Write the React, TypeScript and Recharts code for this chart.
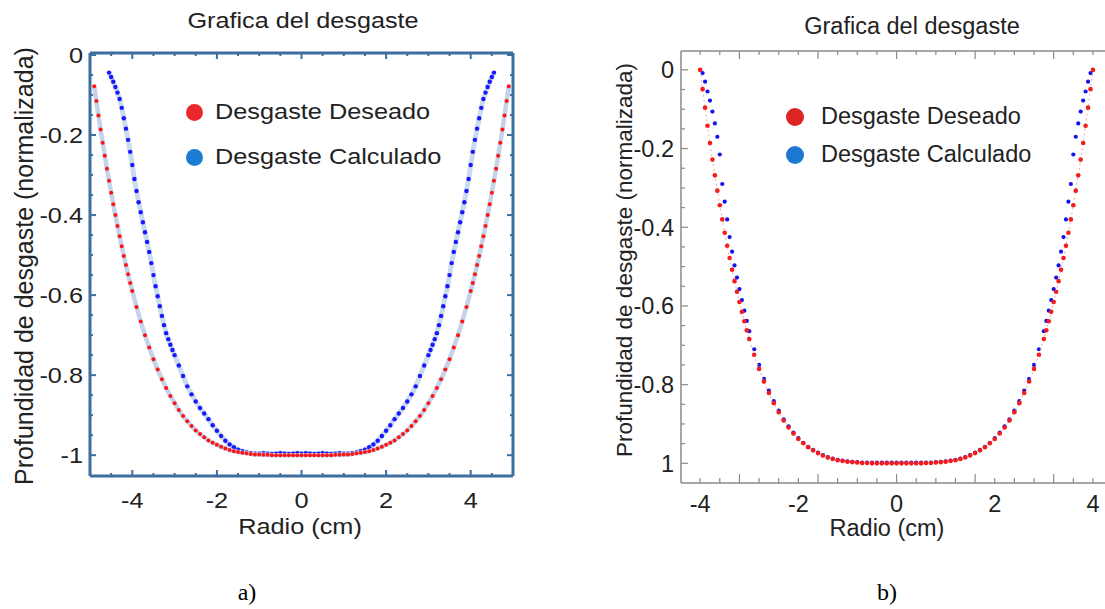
import { ScatterChart, Scatter, XAxis, YAxis } from 'recharts'

const TITULO = 'Grafica del desgaste'
const EJE_X = 'Radio (cm)'
const EJE_Y = 'Profundidad de desgaste (normalizada)'
const SERIES = ['Desgaste Deseado', 'Desgaste Calculado']
const PANELES = ['a)', 'b)']

// ---- panel a) ----
const RADIO_DESEADO_A = [
  -4.9, -4.85, -4.8, -4.75, -4.7, -4.65, -4.6, -4.55, -4.5, -4.45,
  -4.4, -4.35, -4.3, -4.25, -4.2, -4.15, -4.1, -4.05,
  -4, -3.9, -3.8, -3.7, -3.6, -3.5, -3.4, -3.3, -3.2, -3.1,
  -3, -2.9, -2.8, -2.7, -2.6, -2.5, -2.4, -2.3, -2.2, -2.1,
  -2, -1.9, -1.8, -1.7, -1.6, -1.5, -1.4, -1.3, -1.2, -1.1,
  -1, -0.9, -0.8, -0.7, -0.6, -0.5, -0.4, -0.3, -0.2, -0.1,
  0,
  0.1, 0.2, 0.3, 0.4, 0.5, 0.6, 0.7, 0.8, 0.9, 1,
  1.1, 1.2, 1.3, 1.4, 1.5, 1.6, 1.7, 1.8, 1.9, 2,
  2.1, 2.2, 2.3, 2.4, 2.5, 2.6, 2.7, 2.8, 2.9, 3,
  3.1, 3.2, 3.3, 3.4, 3.5, 3.6, 3.7, 3.8, 3.9, 4,
  4.05, 4.1, 4.15, 4.2, 4.25, 4.3, 4.35, 4.4, 4.45, 4.5,
  4.55, 4.6, 4.65, 4.7, 4.75, 4.8, 4.85, 4.9,
]
const DESGASTE_DESEADO_A = [
  -0.078, -0.115, -0.151, -0.186, -0.219, -0.252, -0.284, -0.314, -0.344, -0.373,
  -0.4, -0.427, -0.453, -0.478, -0.502, -0.525, -0.548, -0.57,
  -0.59, -0.63, -0.666, -0.7, -0.731, -0.76, -0.786, -0.81, -0.832, -0.852,
  -0.87, -0.887, -0.902, -0.915, -0.927, -0.938, -0.947, -0.955, -0.963, -0.969,
  -0.974, -0.979, -0.983, -0.987, -0.99, -0.992, -0.994, -0.995, -0.997, -0.998,
  -0.998, -0.999, -0.999, -1, -1, -1, -1, -1, -1, -1,
  -1,
  -1, -1, -1, -1, -1, -1, -1, -0.999, -0.999, -0.998,
  -0.998, -0.997, -0.995, -0.994, -0.992, -0.99, -0.987, -0.983, -0.979, -0.974,
  -0.969, -0.963, -0.955, -0.947, -0.938, -0.927, -0.915, -0.902, -0.887, -0.87,
  -0.852, -0.832, -0.81, -0.786, -0.76, -0.731, -0.7, -0.666, -0.63, -0.59,
  -0.57, -0.548, -0.525, -0.502, -0.478, -0.453, -0.427, -0.4, -0.373, -0.344,
  -0.314, -0.284, -0.252, -0.219, -0.186, -0.151, -0.115, -0.078,
]
const RADIO_CALCULADO_A = [
  -4.55, -4.5, -4.45, -4.4, -4.35, -4.3, -4.25, -4.2, -4.15, -4.1,
  -4.05, -4, -3.95, -3.9, -3.85, -3.8, -3.75, -3.7, -3.65, -3.6,
  -3.55, -3.5, -3.45, -3.4, -3.35, -3.3, -3.25, -3.2, -3.15, -3.1,
  -3.05,
  -3, -2.9, -2.8, -2.7, -2.6, -2.5, -2.4, -2.3, -2.2, -2.1,
  -2, -1.9, -1.8, -1.7, -1.6, -1.5, -1.4, -1.3, -1.2, -1.1,
  -1, -0.9, -0.8, -0.7, -0.6, -0.5, -0.4, -0.3, -0.2, -0.1,
  0,
  0.1, 0.2, 0.3, 0.4, 0.5, 0.6, 0.7, 0.8, 0.9, 1,
  1.1, 1.2, 1.3, 1.4, 1.5, 1.6, 1.7, 1.8, 1.9, 2,
  2.1, 2.2, 2.3, 2.4, 2.5, 2.6, 2.7, 2.8, 2.9, 3,
  3.05,
  3.1, 3.15, 3.2, 3.25, 3.3, 3.35, 3.4, 3.45, 3.5, 3.55,
  3.6, 3.65, 3.7, 3.75, 3.8, 3.85, 3.9, 3.95, 4, 4.05,
  4.1, 4.15, 4.2, 4.25, 4.3, 4.35, 4.4, 4.45, 4.5, 4.55,
]
const DESGASTE_CALCULADO_A = [
  -0.044, -0.055, -0.067, -0.08, -0.094, -0.11, -0.132, -0.158, -0.184, -0.212,
  -0.242, -0.275, -0.31, -0.34, -0.368, -0.393, -0.418, -0.443, -0.467, -0.492,
  -0.52, -0.55, -0.578, -0.603, -0.628, -0.652, -0.675, -0.695, -0.71, -0.724,
  -0.737,
  -0.75, -0.776, -0.802, -0.828, -0.848, -0.866, -0.882, -0.896, -0.91, -0.925,
  -0.939, -0.952, -0.964, -0.973, -0.98, -0.986, -0.99, -0.993, -0.995, -0.996,
  -0.996, -0.995, -0.996, -0.997, -0.996, -0.995, -0.996, -0.997, -0.996, -0.995,
  -0.996,
  -0.995, -0.996, -0.997, -0.996, -0.995, -0.996, -0.997, -0.996, -0.995, -0.996,
  -0.996, -0.995, -0.993, -0.99, -0.986, -0.98, -0.973, -0.964, -0.952, -0.939,
  -0.925, -0.91, -0.896, -0.882, -0.866, -0.848, -0.828, -0.802, -0.776, -0.75,
  -0.737,
  -0.724, -0.71, -0.695, -0.675, -0.652, -0.628, -0.603, -0.578, -0.55, -0.52,
  -0.492, -0.467, -0.443, -0.418, -0.393, -0.368, -0.34, -0.31, -0.275, -0.242,
  -0.212, -0.184, -0.158, -0.132, -0.11, -0.094, -0.08, -0.067, -0.055, -0.044,
]

// ---- panel b) ----
const RADIO_DESEADO_B = [
  -4, -3.95, -3.9, -3.85, -3.8, -3.75, -3.7, -3.65, -3.6, -3.55,
  -3.5, -3.45, -3.4, -3.35, -3.3, -3.25, -3.2, -3.15, -3.1, -3.05,
  -3, -2.9, -2.8, -2.7, -2.6, -2.5, -2.4, -2.3, -2.2, -2.1,
  -2, -1.9, -1.8, -1.7, -1.6, -1.5, -1.4, -1.3, -1.2, -1.1,
  -1, -0.9, -0.8, -0.7, -0.6, -0.5, -0.4, -0.3, -0.2, -0.1,
  0,
  0.1, 0.2, 0.3, 0.4, 0.5, 0.6, 0.7, 0.8, 0.9, 1,
  1.1, 1.2, 1.3, 1.4, 1.5, 1.6, 1.7, 1.8, 1.9, 2,
  2.1, 2.2, 2.3, 2.4, 2.5, 2.6, 2.7, 2.8, 2.9, 3,
  3.05, 3.1, 3.15, 3.2, 3.25, 3.3, 3.35, 3.4, 3.45, 3.5,
  3.55, 3.6, 3.65, 3.7, 3.75, 3.8, 3.85, 3.9, 3.95, 4,
]
const DESGASTE_DESEADO_B = [
  0, -0.049, -0.096, -0.142, -0.186, -0.228, -0.268, -0.307, -0.344, -0.38,
  -0.414, -0.447, -0.478, -0.508, -0.537, -0.564, -0.59, -0.615, -0.639, -0.662,
  -0.684, -0.724, -0.76, -0.792, -0.821, -0.847, -0.87, -0.891, -0.909, -0.924,
  -0.938, -0.949, -0.959, -0.967, -0.974, -0.98, -0.985, -0.989, -0.992, -0.994,
  -0.996, -0.997, -0.998, -0.999, -0.999, -1, -1, -1, -1, -1,
  -1,
  -1, -1, -1, -1, -1, -0.999, -0.999, -0.998, -0.997, -0.996,
  -0.994, -0.992, -0.989, -0.985, -0.98, -0.974, -0.967, -0.959, -0.949, -0.938,
  -0.924, -0.909, -0.891, -0.87, -0.847, -0.821, -0.792, -0.76, -0.724, -0.684,
  -0.662, -0.639, -0.615, -0.59, -0.564, -0.537, -0.508, -0.478, -0.447, -0.414,
  -0.38, -0.344, -0.307, -0.268, -0.228, -0.186, -0.142, -0.096, -0.049, 0,
]
const RADIO_CALCULADO_B = [
  -3.95, -3.9, -3.85, -3.8, -3.75, -3.7, -3.65, -3.6, -3.55, -3.5,
  -3.45, -3.4, -3.35, -3.3, -3.25, -3.2, -3.15, -3.1, -3.05,
  -3, -2.9, -2.8, -2.7, -2.6, -2.5, -2.4, -2.3, -2.2, -2.1,
  -2, -1.9, -1.8, -1.7, -1.6, -1.5, -1.4, -1.3, -1.2, -1.1,
  -1, -0.9, -0.8, -0.7, -0.6, -0.5, -0.4, -0.3, -0.2, -0.1,
  0,
  0.1, 0.2, 0.3, 0.4, 0.5, 0.6, 0.7, 0.8, 0.9, 1,
  1.1, 1.2, 1.3, 1.4, 1.5, 1.6, 1.7, 1.8, 1.9, 2,
  2.1, 2.2, 2.3, 2.4, 2.5, 2.6, 2.7, 2.8, 2.9, 3,
  3.05, 3.1, 3.15, 3.2, 3.25, 3.3, 3.35, 3.4, 3.45,
  3.5, 3.55, 3.6, 3.65, 3.7, 3.75, 3.8, 3.85, 3.9, 3.95,
]
const DESGASTE_CALCULADO_B = [
  -0.008, -0.03, -0.055, -0.078, -0.106, -0.136, -0.17, -0.215, -0.29, -0.335,
  -0.38, -0.425, -0.462, -0.497, -0.528, -0.557, -0.585, -0.612, -0.638,
  -0.664, -0.71, -0.75, -0.785, -0.815, -0.842, -0.866, -0.888, -0.906, -0.922,
  -0.936, -0.948, -0.958, -0.966, -0.973, -0.979, -0.984, -0.988, -0.991, -0.993,
  -0.995, -0.996, -0.997, -0.998, -0.998, -0.998, -0.998, -0.998, -0.998, -0.998,
  -0.998,
  -0.998, -0.998, -0.998, -0.998, -0.998, -0.998, -0.998, -0.997, -0.996, -0.995,
  -0.993, -0.991, -0.988, -0.984, -0.979, -0.973, -0.966, -0.958, -0.948, -0.936,
  -0.922, -0.906, -0.888, -0.866, -0.842, -0.815, -0.785, -0.75, -0.71, -0.664,
  -0.638, -0.612, -0.585, -0.557, -0.528, -0.497, -0.462, -0.425, -0.38,
  -0.335, -0.29, -0.215, -0.17, -0.136, -0.106, -0.078, -0.055, -0.03, -0.008,
]

// ticks
const MARCAS_X_A = [-4.5, -4, -3.5, -3, -2.5, -2, -1.5, -1, -0.5, 0, 0.5, 1, 1.5, 2, 2.5, 3, 3.5, 4, 4.5]
const ETIQUETAS_X = [-4, -2, 0, 2, 4]
const MARCAS_Y = [
  -1, -0.95, -0.9, -0.85, -0.8, -0.75, -0.7, -0.65, -0.6, -0.55,
  -0.5, -0.45, -0.4, -0.35, -0.3, -0.25, -0.2, -0.15, -0.1, -0.05, 0,
]
const ETIQUETAS_Y = [-1, -0.8, -0.6, -0.4, -0.2, 0]
const TEXTOS_Y_A = ['-1', '-0.8', '-0.6', '-0.4', '-0.2', '0']
const TEXTOS_Y_B = ['1', '-0.8', '-0.6', '-0.4', '-0.2', '0']
const MARCAS_X_B = [
  -4, -3.6, -3.2, -2.8, -2.4, -2, -1.6, -1.2, -0.8, -0.4, 0,
  0.4, 0.8, 1.2, 1.6, 2, 2.4, 2.8, 3.2, 3.6, 4,
]
const MAYORES_X_B = [-3.2, -1.6, 0, 1.6, 3.2]

const unir = (xs: number[], ys: number[]) => xs.map((x, i) => ({ x, y: ys[i] }))

const FUENTE = '"Liberation Sans", Arial, Helvetica, sans-serif'
const MARCO_A = '#3c6f9f'
const EJE_B = '#8a8a8a'

type Lado = 'abajo' | 'arriba' | 'izq' | 'der'
interface TickCfg {
  lado: Lado
  mayores: number[]
  largo: [number, number]
  color: string
  grosor: number
  etiquetas?: number[]
  textos?: string[]
  fuente?: number
  estirar?: number
  sep?: number
}

function crearTick(c: TickCfg) {
  return (props: any) => {
    const { x, y, payload } = props
    const v: number = payload.value
    const l = c.mayores.includes(v) ? c.largo[0] : c.largo[1]
    const d =
      c.lado === 'abajo' ? [0, -l] : c.lado === 'arriba' ? [0, l] : c.lado === 'izq' ? [l, 0] : [-l, 0]
    let texto = null
    const i = c.etiquetas ? c.etiquetas.indexOf(v) : -1
    if (i >= 0) {
      const s = c.textos ? c.textos[i] : String(v)
      const sep = c.sep ?? 10
      const horiz = c.lado === 'abajo'
      const tx = horiz ? x : x - sep
      const ty = horiz ? y + sep : y
      texto = (
        <text
          transform={`translate(${tx},${ty}) scale(${c.estirar ?? 1},1)`}
          textAnchor={horiz ? 'middle' : 'end'}
          dy="0.36em"
          fontSize={c.fuente}
          fontFamily={FUENTE}
          fill="#222"
        >
          {s}
        </text>
      )
    }
    return (
      <g>
        <line x1={x} y1={y} x2={x + d[0]} y2={y + d[1]} stroke={c.color} strokeWidth={c.grosor} />
        {texto}
      </g>
    )
  }
}

const punto = (r: number, fill: string) => (props: any) =>
  <circle cx={props.cx} cy={props.cy} r={r} fill={fill} />
const nada = () => <g />

function PanelA() {
  const ejeX = {
    type: 'number' as const,
    domain: [-5, 5],
    allowDataOverflow: true,
    ticks: MARCAS_X_A,
    interval: 0 as const,
    tickLine: false,
    tickSize: 0,
    tickMargin: 0,
    axisLine: { stroke: MARCO_A, strokeWidth: 3 },
  }
  const ejeY = {
    type: 'number' as const,
    domain: [-1.052, 0.005],
    allowDataOverflow: true,
    ticks: MARCAS_Y,
    interval: 0 as const,
    tickLine: false,
    tickSize: 0,
    tickMargin: 0,
    axisLine: { stroke: MARCO_A, strokeWidth: 3 },
  }
  const base = { color: MARCO_A, grosor: 2, largo: [6, 3] as [number, number] }
  const deseado = unir(RADIO_DESEADO_A, DESGASTE_DESEADO_A)
  return (
    <ScatterChart width={545} height={609} margin={{ top: 52, right: 31, bottom: 73, left: 0 }}>
      <XAxis
        {...ejeX}
        dataKey="x"
        height={60}
        tick={crearTick({ ...base, lado: 'abajo', mayores: ETIQUETAS_X, etiquetas: ETIQUETAS_X, fuente: 22, estirar: 1.15, sep: 24 })}
      />
      <XAxis {...ejeX} dataKey="x" xAxisId="arriba" orientation="top" height={1} tick={crearTick({ ...base, lado: 'arriba', mayores: ETIQUETAS_X })} />
      <YAxis
        {...ejeY}
        dataKey="y"
        width={90}
        tick={crearTick({ ...base, lado: 'izq', mayores: ETIQUETAS_Y, etiquetas: ETIQUETAS_Y, textos: TEXTOS_Y_A, fuente: 22, estirar: 1.15, sep: 7 })}
      />
      <YAxis {...ejeY} dataKey="y" yAxisId="der" orientation="right" width={1} tick={crearTick({ ...base, lado: 'der', mayores: ETIQUETAS_Y })} />
      <Scatter data={deseado} xAxisId="arriba" yAxisId="der" shape={nada} legendType="none" isAnimationActive={false} />
      <Scatter
        name={SERIES[1]}
        data={unir(RADIO_CALCULADO_A, DESGASTE_CALCULADO_A)}
        line={{ stroke: '#cbdaef', strokeWidth: 5, strokeLinejoin: 'round' }}
        shape={punto(2.2, '#1818ff')}
        isAnimationActive={false}
      />
      <Scatter
        name={SERIES[0]}
        data={deseado}
        line={{ stroke: '#c4d3ea', strokeWidth: 4.5, strokeLinejoin: 'round' }}
        shape={punto(2, '#ff1414')}
        isAnimationActive={false}
      />
    </ScatterChart>
  )
}

function PanelB() {
  const ejeX = {
    type: 'number' as const,
    domain: [-4.39, 4.245],
    allowDataOverflow: true,
    ticks: MARCAS_X_B,
    interval: 0 as const,
    tickLine: false,
    tickSize: 0,
    tickMargin: 0,
    axisLine: { stroke: EJE_B, strokeWidth: 1.5 },
  }
  const deseado = unir(RADIO_DESEADO_B, DESGASTE_DESEADO_B)
  return (
    <ScatterChart width={545} height={609} margin={{ top: 50, right: 0, bottom: 66, left: 0 }}>
      <XAxis
        {...ejeX}
        dataKey="x"
        height={60}
        tick={crearTick({ lado: 'abajo', mayores: MAYORES_X_B, largo: [9, 5], color: EJE_B, grosor: 1.2, etiquetas: ETIQUETAS_X, fuente: 23.5, sep: 21 })}
      />
      <XAxis
        {...ejeX}
        dataKey="x"
        xAxisId="arriba"
        orientation="top"
        height={1}
        tick={crearTick({ lado: 'arriba', mayores: MAYORES_X_B, largo: [8, 4], color: EJE_B, grosor: 1.2 })}
      />
      <YAxis
        type="number"
        dataKey="y"
        domain={[-1.05, 0.048]}
        allowDataOverflow
        ticks={MARCAS_Y}
        interval={0}
        tickLine={false}
        tickSize={0}
        tickMargin={0}
        width={121}
        axisLine={{ stroke: EJE_B, strokeWidth: 1.5 }}
        tick={crearTick({ lado: 'izq', mayores: ETIQUETAS_Y, largo: [7, 4], color: EJE_B, grosor: 1.2, etiquetas: ETIQUETAS_Y, textos: TEXTOS_Y_B, fuente: 23.5, sep: 7 })}
      />
      <Scatter data={deseado} xAxisId="arriba" shape={nada} legendType="none" isAnimationActive={false} />
      <Scatter
        name={SERIES[1]}
        data={unir(RADIO_CALCULADO_B, DESGASTE_CALCULADO_B)}
        shape={punto(2.1, '#1212ec')}
        isAnimationActive={false}
      />
      <Scatter
        name={SERIES[0]}
        data={deseado}
        line={{ stroke: '#f2a4a4', strokeWidth: 1, strokeDasharray: '2 3' }}
        shape={punto(2.3, '#f41c1c')}
        isAnimationActive={false}
      />
    </ScatterChart>
  )
}

function Texto(p: { cx: number; cy: number; size: number; estirar?: number; giro?: number; serif?: boolean; children: any }) {
  return (
    <div
      style={{
        position: 'absolute',
        left: p.cx,
        top: p.cy,
        transform: `translate(-50%, -50%) rotate(${p.giro ?? 0}deg) scaleX(${p.estirar ?? 1})`,
        fontSize: p.size,
        lineHeight: 1,
        whiteSpace: 'nowrap',
        fontFamily: p.serif ? '"Liberation Serif", "Times New Roman", serif' : FUENTE,
        color: p.serif ? '#000' : '#222',
      }}
    >
      {p.children}
    </div>
  )
}

function Leyenda(p: { x: number; ys: number[]; dot: number; colores: string[]; textoX: number; size: number; estirar?: number }) {
  return (
    <>
      {SERIES.map((s, i) => (
        <div key={s}>
          <div
            style={{
              position: 'absolute',
              left: p.x - p.dot / 2,
              top: p.ys[i] - p.dot / 2,
              width: p.dot,
              height: p.dot,
              borderRadius: '50%',
              background: p.colores[i],
            }}
          />
          <div
            style={{
              position: 'absolute',
              left: p.textoX,
              top: p.ys[i],
              transform: `translateY(-50%) scaleX(${p.estirar ?? 1})`,
              transformOrigin: 'left center',
              fontSize: p.size,
              lineHeight: 1,
              whiteSpace: 'nowrap',
              fontFamily: FUENTE,
              color: '#222',
            }}
          >
            {s}
          </div>
        </div>
      ))}
    </>
  )
}

export default function App() {
  return (
    <div style={{ position: 'absolute', left: 0, top: 0, width: 1105, height: 609, background: '#fff', overflow: 'hidden' }}>
      <div style={{ position: 'absolute', left: 0, top: 0 }}>
        <PanelA />
      </div>
      <div style={{ position: 'absolute', left: 560, top: 0 }}>
        <PanelB />
      </div>

      <Texto cx={303} cy={21} size={22.5} estirar={1.12}>{TITULO}</Texto>
      <Texto cx={300} cy={527} size={22} estirar={1.15}>{EJE_X}</Texto>
      <Texto cx={24} cy={266} size={25} giro={-90}>{EJE_Y}</Texto>
      <Texto cx={247} cy={592} size={24} serif>{PANELES[0]}</Texto>
      <Leyenda x={194} ys={[112, 157]} dot={17} colores={['#e8282a', '#1a7cd2']} textoX={215} size={22} estirar={1.15} />

      <Texto cx={912} cy={27} size={23.5}>{TITULO}</Texto>
      <Texto cx={887} cy={529} size={23.5}>{EJE_X}</Texto>
      <Texto cx={625} cy={260} size={22.5} giro={-90}>{EJE_Y}</Texto>
      <Texto cx={887} cy={592} size={24} serif>{PANELES[1]}</Texto>
      <Leyenda x={795} ys={[117, 155]} dot={18} colores={['#dc2424', '#1e78d2']} textoX={821} size={23.5} />
    </div>
  )
}
